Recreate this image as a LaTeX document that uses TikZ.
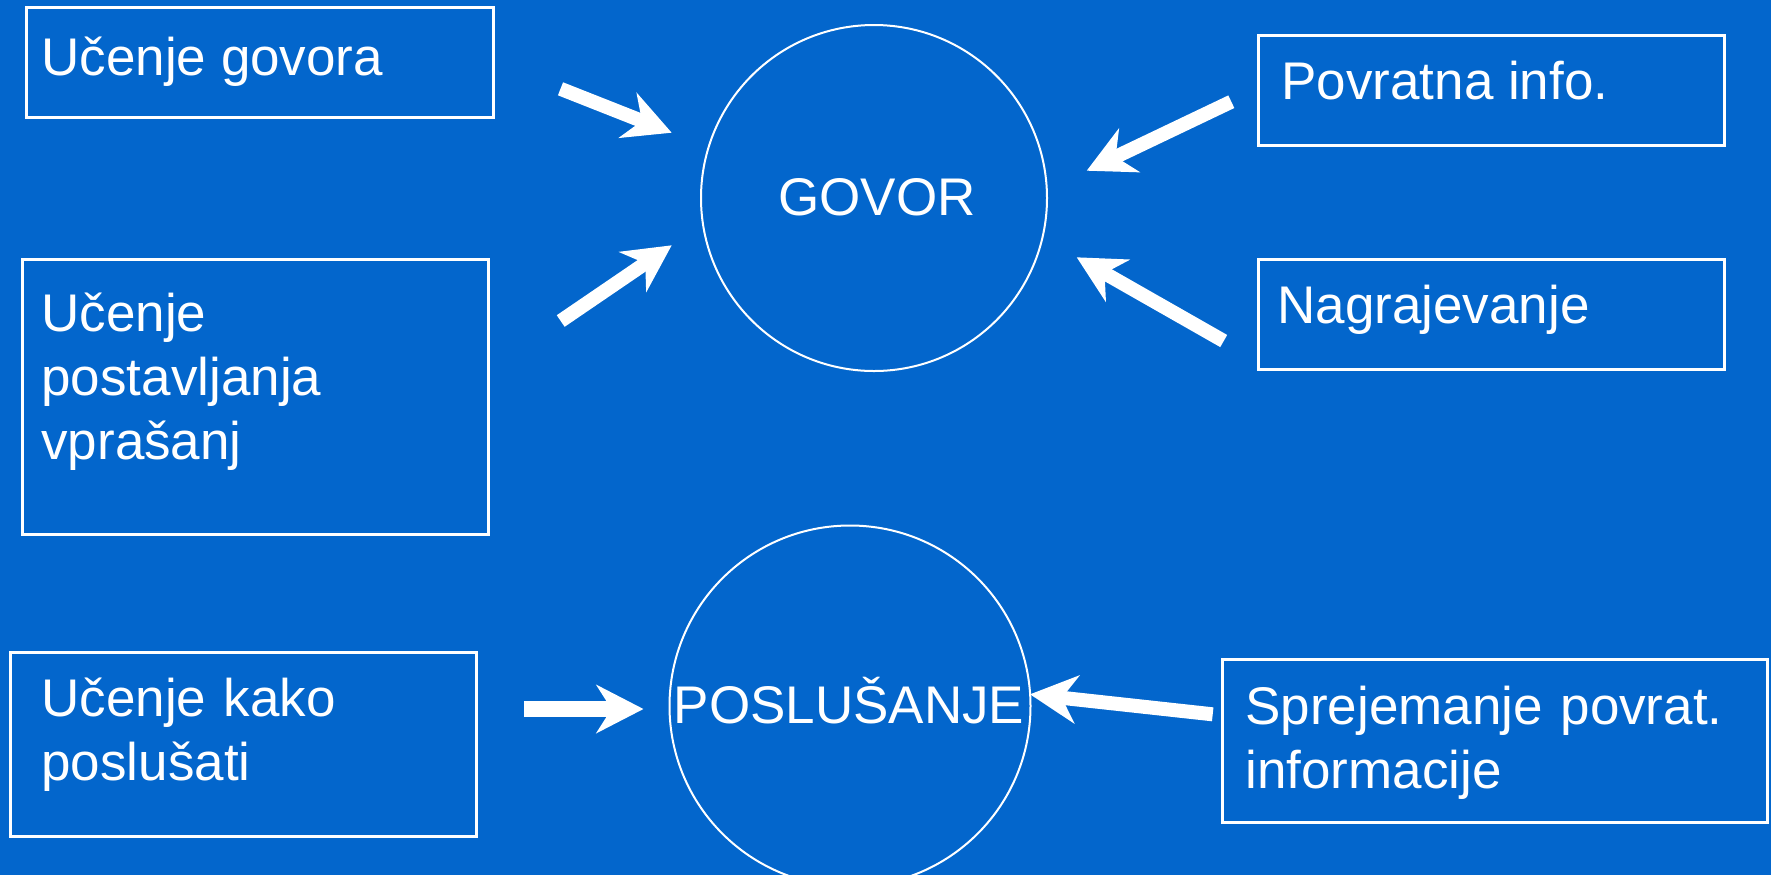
\documentclass[tikz,border=0pt]{standalone}
\usepackage{fontspec}
\setmainfont{Liberation Sans}
\usetikzlibrary{arrows.meta}
\definecolor{bgblue}{HTML}{0366CC}
\begin{document}
\begin{tikzpicture}[x=0.5pt,y=-0.5pt,
  boxnode/.style={draw=white, line width=1.3pt, anchor=north west, inner sep=0pt},
  ringnode/.style={draw=white, line width=1pt, circle, inner sep=0pt},
  lbl/.style={text=white, inner sep=0pt, font=\fontsize{26.5}{32}\selectfont},
  multilbl/.style={lbl, anchor=base west, text width=260pt, align=left},
  bigarrow/.style={draw=white, line width=7pt, -{Stealth[length=23.5pt, width=24pt, inset=7.5pt]}}
]
\fill[bgblue] (0,0) rectangle (1771,875);
\clip (0,0) rectangle (1771,875);

% boxes
\node[boxnode, minimum width=233.5pt, minimum height=55pt] (b1) at (25,6) {};
\node[boxnode, minimum width=233pt, minimum height=137.5pt] (b2) at (21,258) {};
\node[boxnode, minimum width=233pt, minimum height=92pt] (b3) at (9,651) {};
\node[boxnode, minimum width=233pt, minimum height=55pt] (b4) at (1257,34) {};
\node[boxnode, minimum width=233pt, minimum height=55pt] (b5) at (1257,258) {};
\node[boxnode, minimum width=272.5pt, minimum height=81.5pt] (b6) at (1221,658) {};

% box texts
\node[lbl, anchor=base west] (t1) at (41,75) {Učenje govora};
\node[multilbl] (t2) at (41,331) {Učenje\\postavljanja\\vprašanj};
\node[multilbl] (t3) at (41,716) {Učenje kako\\poslušati};
\node[lbl, anchor=base west] (t4) at (1281,99) {Povratna info.};
\node[lbl, anchor=base west] (t5) at (1277,323) {Nagrajevanje};
\node[multilbl] (t6) at (1245,724) {Sprejemanje povrat.\\informacije};

% circles
\node[ringnode, minimum size=173pt] (govor) at (874,198) {};
\node[lbl, anchor=base] (govort) at (877,215) {GOVOR};
\node[ringnode, minimum size=180.5pt] (posl) at (850,706) {};
\node[lbl, anchor=base] (poslt) at (849,723) {POSLUŠANJE};

% arrow end points
\coordinate (a1s) at (560.5,88.8);  \coordinate (a1e) at (671.7,132.7);
\coordinate (a2s) at (560.7,321);   \coordinate (a2e) at (671.7,245.3);
\coordinate (a3s) at (1231.3,101.7);\coordinate (a3e) at (1086.7,170.7);
\coordinate (a4s) at (1223.7,341);  \coordinate (a4e) at (1076.7,257.3);
\coordinate (a5s) at (524,709);     \coordinate (a5e) at (643.5,709);
\coordinate (a6s) at (1212.7,714.3);\coordinate (a6e) at (1030,694.3);

\draw[bigarrow] (a1s) -- (a1e);
\draw[bigarrow] (a2s) -- (a2e);
\draw[bigarrow] (a3s) -- (a3e);
\draw[bigarrow] (a4s) -- (a4e);
\draw[bigarrow, line width=8pt] (a5s) -- (a5e);
\draw[bigarrow] (a6s) -- (a6e);
\end{tikzpicture}
\end{document}
